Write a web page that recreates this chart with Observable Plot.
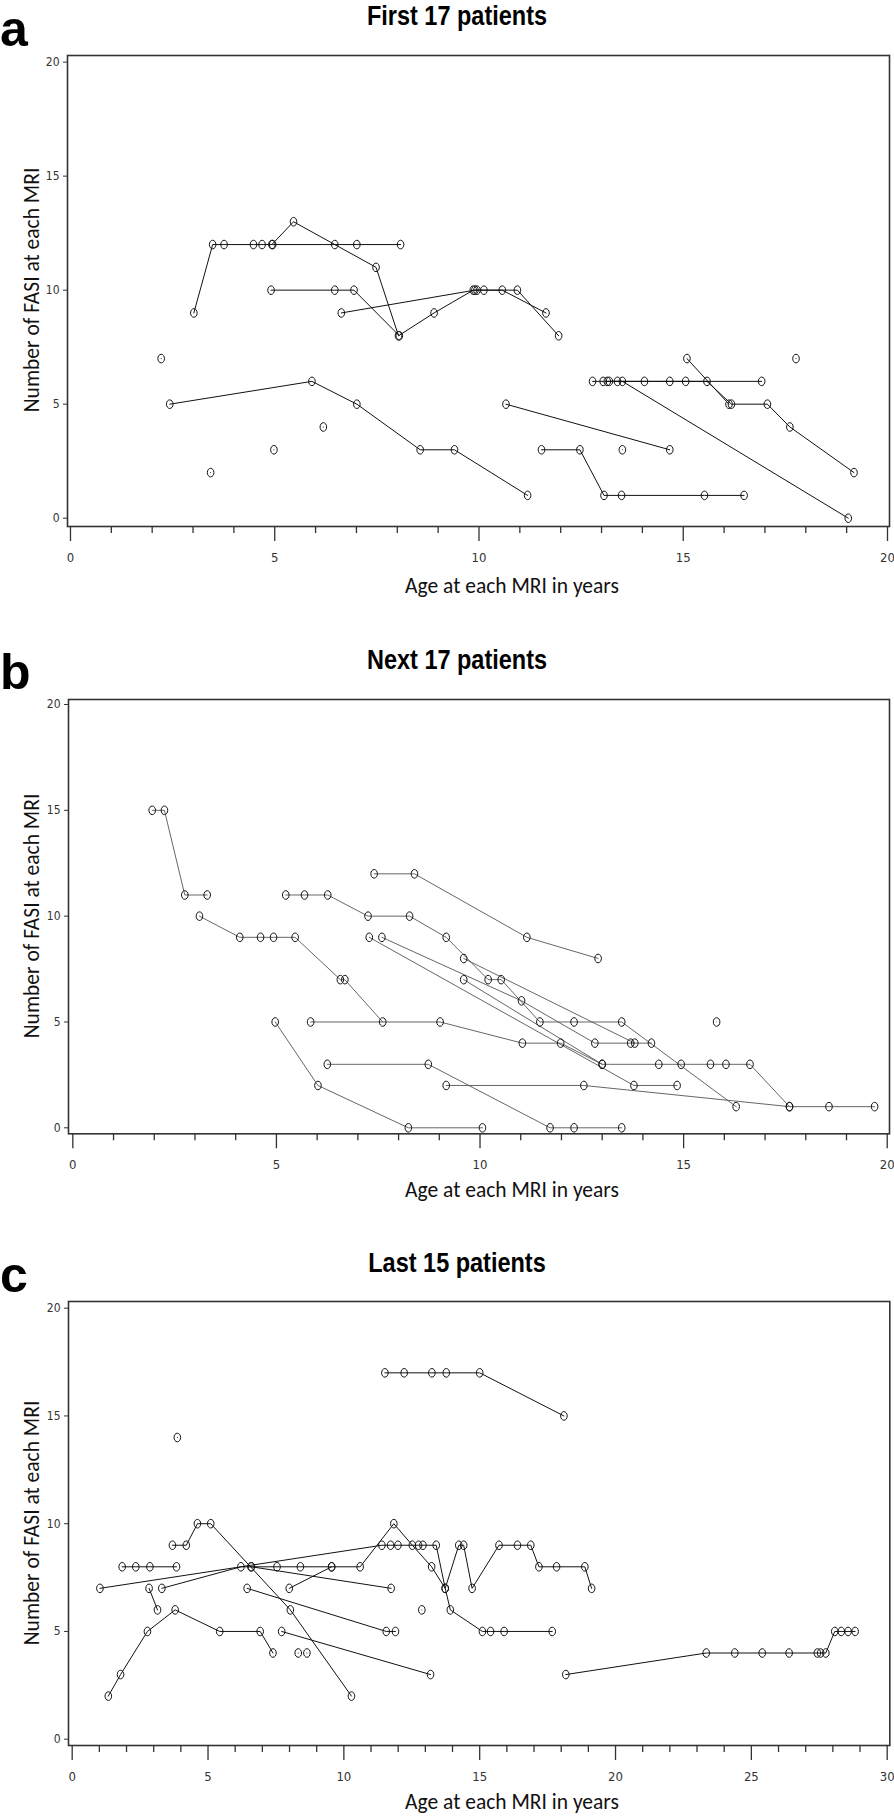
<!DOCTYPE html>
<html><head><meta charset="utf-8">
<script src="https://cdn.jsdelivr.net/npm/d3@7"></script>
<script src="https://cdn.jsdelivr.net/npm/@observablehq/plot@0.6"></script>
<style>
html,body{margin:0;padding:0;background:#fff;}
#page{position:relative;width:894px;height:1817px;overflow:hidden;background:#fff;}
.panel{position:absolute;left:0;}
#overlay{position:absolute;left:0;top:0;pointer-events:none;}
</style></head><body><div id="page"></div>
<script>
// ---------- Panel a: First 17 patients ----------
const titleA = "First 17 patients";
const agesA = [
  [3.02,3.48,3.76,4.48,4.69,4.95,6.47,7.01,8.08],
  [4.93,5.46,7.48,8.03,8.9,9.86,10.12,10.57,11.64],
  [4.91,6.47,6.94,8.05],
  [6.63,9.9,9.95,10.94,11.95],
  [2.43,5.91,7.01,8.56,9.40,11.19],
  [10.66,14.67],
  [11.53,12.47,13.06,13.49,15.52,16.49],
  [12.78,13.04,13.39,14.05,14.67,15.06,16.92],
  [13.14,13.51,19.04],
  [13.19,15.58,16.18,17.06,17.61,19.18],
  [15.09,16.12],
  [2.22],[6.19],[4.98],[3.43],[13.51],[17.76]
];
const fasiA = [
  [9,12,12,12,12,12,12,12,12],
  [12,13,11,8,9,10,10,10,9],
  [10,10,10,8],
  [9,10,10,10,8],
  [5,6,5,3,3,1],
  [5,3],
  [3,3,1,1,1,1],
  [6,6,6,6,6,6,6],
  [6,6,0],
  [6,6,5,5,4,2],
  [7,5],
  [7],[4],[3],[2],[3],[7]
];

// ---------- Panel b: Next 17 patients ----------
const titleB = "Next 17 patients";
const agesB = [
  [1.95,2.25,2.75,3.30],
  [3.11,4.10,4.61,4.93,5.46,6.57,6.68,7.61],
  [5.84,9.02,11.04,11.98,13.0,14.39,14.94,15.66,16.04,16.63,17.6],
  [7.40,8.39,11.15,12.9],
  [5.23,5.69,6.26,7.25,8.27,9.17,10.2,10.52,11.47,12.31,13.48,16.29],
  [7.28,13.78,14.84],
  [7.59,11.02,12.82,13.7,14.21],
  [9.6,13.8],
  [9.6,13.0],
  [4.97,6.02,8.24,10.06],
  [6.25,8.73,11.72,12.31,13.48],
  [9.17,12.55,17.6,18.57,19.69],
  [15.81]
];
const fasiB = [
  [15,15,11,11],
  [10,9,9,9,9,7,7,5],
  [5,5,4,4,3,3,3,3,3,3,1],
  [12,12,9,8],
  [11,11,11,10,10,9,7,7,5,5,5,1],
  [9,2,2],
  [9,6,4,4,4],
  [8,4],
  [7,3],
  [5,2,0,0],
  [3,3,0,0,0],
  [2,2,1,1,1],
  [5]
];

// ---------- Panel c: Last 15 patients ----------
const titleC = "Last 15 patients";
const agesC = [
  [1.33,1.78,2.77,3.79,5.43,6.92,7.39],
  [2.83,3.14],
  [1.84,2.34,2.86,3.84],
  [3.69,4.2,4.61,5.1,8.03,10.28],
  [1.02,11.4,11.72,11.99,12.75,12.91,13.4,13.73,14.23,14.41,14.72,15.71,16.39,16.88,17.18,17.83,18.87,19.12],
  [3.3,6.21,6.58,7.54,8.4,9.55,10.6,11.84,12.52,13.23,13.73,13.92,15.1,15.4,15.9,17.67],
  [6.6,11.74],
  [6.44,11.56,11.9],
  [7.71,13.19],
  [7.99,9.55],
  [12.87],[8.32],[8.64],[3.87],
  [11.51,12.22,13.24,13.77,15.0,18.1],
  [18.17,23.34,24.39,25.4,26.39,27.43,27.55,27.74,28.07,28.31,28.56,28.82]
];
const fasiC = [
  [2,3,5,6,5,5,4],
  [7,6],
  [8,8,8,8],
  [9,9,10,10,6,2],
  [7,9,9,9,9,9,9,7,9,9,7,9,9,9,8,8,8,7],
  [7,8,8,8,8,8,8,10,9,8,7,6,5,5,5,5],
  [8,7],
  [7,5,5],
  [5,3],
  [7,8],
  [6],[4],[4],[14],
  [17,17,17,17,17,15],
  [3,4,4,4,4,4,4,4,5,5,5,5]
];

// ---------- axes ----------
const yTicks = [0,5,10,15,20];
const xTicks20 = [0,5,10,15,20];
const xTicks30 = [0,5,10,15,20,25,30];
const xLabel = "Age at each MRI in years";
const yLabel = "Number of FASI at each MRI";
const letters = ["a","b","c"];

const NARROW = "'Liberation Sans Narrow','Arial Narrow','DejaVu Sans Condensed',sans-serif";
const BOLD = "'Liberation Sans',Arial,sans-serif";
const BODY = "Carlito, Calibri, Lato, 'Open Sans', sans-serif";

// open, slightly tall ellipse symbol
const ellipse = {
  draw(ctx) {
    const rx = 3.3, ry = 4.3, k = 0.5523;
    ctx.moveTo(rx, 0);
    ctx.bezierCurveTo(rx, k*ry, k*rx, ry, 0, ry);
    ctx.bezierCurveTo(-k*rx, ry, -rx, k*ry, -rx, 0);
    ctx.bezierCurveTo(-rx, -k*ry, -k*rx, -ry, 0, -ry);
    ctx.bezierCurveTo(k*rx, -ry, rx, -k*ry, rx, 0);
    ctx.closePath();
  }
};

function tidy(ages, fasi) {
  return ages.flatMap((a, i) => a.map((x, j) => ({pid: i, age: x, fasi: fasi[i][j]})));
}

function panel(cfg) {
  const data = tidy(cfg.ages, cfg.fasi);
  const xMinor = d3.range(cfg.xMax + 1).filter(d => d % 5 !== 0);
  return Plot.plot({
    width: 894,
    height: cfg.height,
    marginLeft: cfg.ml,
    marginRight: cfg.mr,
    marginTop: cfg.mt,
    marginBottom: cfg.mb,
    style: {background: "transparent", overflow: "visible"},
    x: {domain: cfg.xDomain, axis: null},
    y: {domain: cfg.yDomain, axis: null},
    marks: [
      Plot.axisX(cfg.xTicks, {anchor: "bottom", tickSize: 15, tickPadding: 11, fontSize: 13,
        fontFamily: NARROW, color: "#333", strokeWidth: 1.3, label: null}),
      Plot.axisX(xMinor, {anchor: "bottom", tickSize: 7, tickFormat: () => "", color: "#333",
        strokeWidth: 1.3, label: null}),
      Plot.axisY(yTicks, {anchor: "left", tickSize: 4, tickPadding: 4, fontSize: 12,
        fontFamily: NARROW, color: "#333", strokeWidth: 1, label: null}),
      Plot.line(data, {x: "age", y: "fasi", z: "pid", stroke: cfg.lineColor,
        strokeWidth: cfg.lineWidth, curve: "linear"}),
      Plot.dot(data, {x: "age", y: "fasi", symbol: ellipse, stroke: "#111",
        strokeWidth: 1, fill: "none"}),
      Plot.frame({stroke: "#333", strokeWidth: 1.6})
    ]
  });
}

const page = document.getElementById("page");
const cfgs = [
  {top: 0, height: 575, mt: 55, mb: 49, ml: 67, mr: 5, ages: agesA, fasi: fasiA,
   xDomain: [-0.073, 20.049], yDomain: [-0.364, 20.29], xTicks: xTicks20, xMax: 20,
   lineColor: "#111", lineWidth: 1},
  {top: 640, height: 540, mt: 59, mb: 46.7, ml: 68, mr: 5, ages: agesB, fasi: fasiB,
   xDomain: [-0.106, 20.056], yDomain: [-0.283, 20.236], xTicks: xTicks20, xMax: 20,
   lineColor: "#555", lineWidth: 0.9},
  {top: 1240, height: 555, mt: 61, mb: 50, ml: 68, mr: 4.7, ages: agesC, fasi: fasiC,
   xDomain: [-0.136, 30.096], yDomain: [-0.292, 20.31], xTicks: xTicks30, xMax: 30,
   lineColor: "#111", lineWidth: 1}
];
cfgs.forEach(c => {
  const el = panel(c);
  el.classList.add("panel");
  el.style.top = c.top + "px";
  page.appendChild(el);
});

// ---------- overlay text ----------
const svgNS = "http://www.w3.org/2000/svg";
const ov = document.createElementNS(svgNS, "svg");
ov.setAttribute("id", "overlay");
ov.setAttribute("width", 894);
ov.setAttribute("height", 1817);
page.appendChild(ov);
function txt(s, x, y, style, anchor = "start", transform = "") {
  const t = document.createElementNS(svgNS, "text");
  t.textContent = s;
  t.setAttribute("x", x);
  t.setAttribute("y", y);
  t.setAttribute("text-anchor", anchor);
  t.setAttribute("style", style);
  if (transform) t.setAttribute("transform", transform);
  ov.appendChild(t);
}
const titles = [titleA, titleB, titleC];
const titleBase = [25, 669, 1272];
const letterBase = [46, 689, 1292];
const xLabBase = [593, 1197, 1809];
const yLabCenter = [290, 916, 1523];
titles.forEach((s, i) => {
  txt(s, 0, 0, `font-family:${BOLD};font-weight:bold;font-size:27px;fill:#000`, "middle",
      `translate(457,${titleBase[i]}) scale(0.87,1)`);
  txt(letters[i], 0, letterBase[i], `font-family:${BOLD};font-weight:bold;font-size:50px;fill:#000`);
  txt(xLabel, 512, xLabBase[i], `font-family:${BODY};font-size:21.5px;fill:#111`, "middle");
  txt(yLabel, 0, 0, `font-family:${BODY};font-size:21.5px;fill:#111`, "middle",
      `translate(39,${yLabCenter[i]}) rotate(-90)`);
});
</script></body></html>
